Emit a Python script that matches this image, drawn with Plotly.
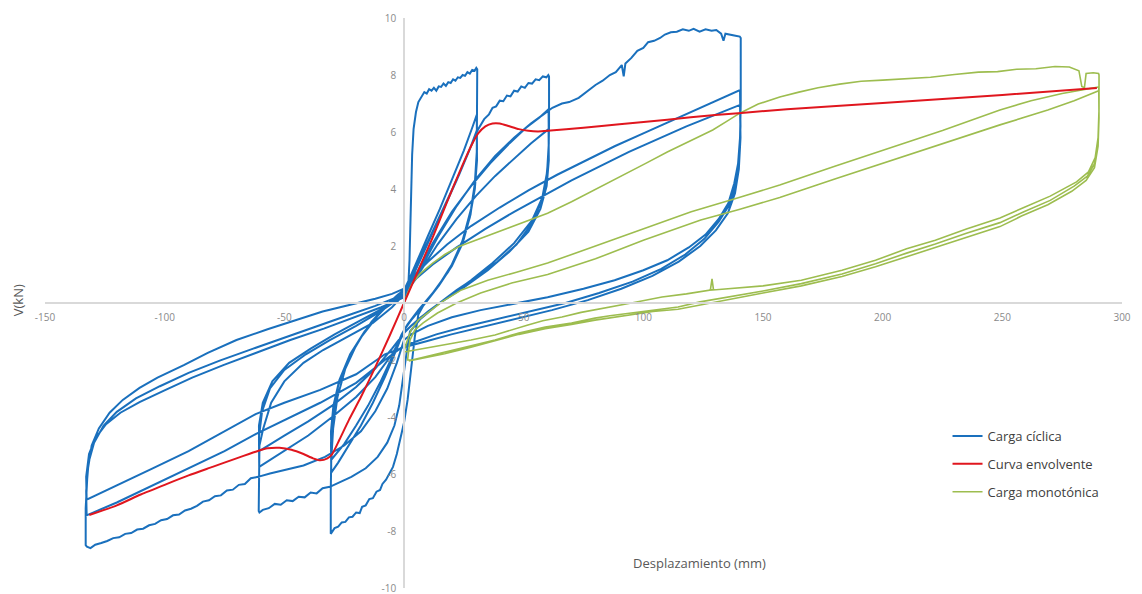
import plotly.graph_objects as go

# ---------------- axis ticks ----------------
x_ticks = [-150, -100, -50, 0, 50, 100, 150, 200, 250, 300]
x_tick_text = ["-150", "-100", "-50", "0", "50", "100", "150", "200", "250", "300"]
y_ticks = [-10, -8, -6, -4, -2, 0, 2, 4, 6, 8, 10]
y_tick_text = ["-10", "-8", "-6", "-4", "-2", "", "2", "4", "6", "8", "10"]

# ---------------- cyclic test: loops (displacement mm, shear kN) ----------------
lazo_30a = [
    (0.0, 0.0), (1.0, 0.3), (1.8, 0.6), (2.3, 1.5), (2.7, 2.8), (3.0, 4.0), (3.4, 5.2), (4.0, 6.1),
    (5.0, 6.7), (6.0, 7.05), (7.5, 7.25), (8.5, 7.4), (9.5, 7.35), (10.5, 7.5), (11.5, 7.45),
    (12.5, 7.55), (13.5, 7.45), (14.5, 7.6), (15.5, 7.58), (16.5, 7.7), (17.5, 7.62), (18.5, 7.75),
    (19.5, 7.72), (20.5, 7.85), (21.5, 7.8), (22.5, 7.92), (23.5, 7.9), (24.5, 8.0), (25.5, 7.97),
    (26.5, 8.1), (27.5, 8.05), (28.5, 8.18), (29.5, 8.15), (30.2, 8.25),
    (30.6, 8.2), (30.6, 6.5), (30.4, 5.3), (29.6, 4.2), (27.8, 3.1), (24.5, 2.1), (20.0, 1.3),
    (14.5, 0.6), (9.0, 0.05), (6.0, -0.4), (4.5, -1.2), (3.0, -2.3), (1.5, -3.4), (0.0, -4.2),
    (-1.5, -4.8), (-3.0, -5.3), (-4.6, -5.75), (-6.0, -5.95), (-7.5, -6.2), (-9.0, -6.35),
    (-10.0, -6.56), (-11.5, -6.62), (-13.0, -6.85), (-14.5, -6.88), (-16.0, -7.1), (-17.5, -7.15),
    (-18.5, -7.37), (-20.0, -7.35), (-21.5, -7.5), (-23.0, -7.52), (-24.5, -7.68), (-26.0, -7.7),
    (-27.5, -7.85), (-29.0, -7.9), (-30.0, -8.05),
    (-30.6, -8.1), (-30.6, -6.6), (-30.4, -5.5), (-29.6, -4.4), (-27.8, -3.3), (-24.5, -2.3),
    (-19.5, -1.4), (-13.5, -0.65), (-7.0, -0.05), (-2.5, 0.3), (0.0, 0.45),
]
lazo_30b = [
    (2.0, 0.8), (5.0, 1.4), (10.0, 2.35), (15.0, 3.3), (20.0, 4.3), (25.0, 5.35), (28.5, 6.15), (30.4, 6.6),
    (30.5, 5.4), (29.8, 4.3), (28.0, 3.3), (24.5, 2.2), (20.0, 1.35), (14.0, 0.55), (8.0, -0.1),
    (3.0, -0.6), (0.0, -0.95),
    (-3.0, -1.6), (-8.0, -2.6), (-13.0, -3.5), (-18.0, -4.3), (-23.0, -5.0), (-27.5, -5.6), (-30.4, -5.95),
    (-30.5, -4.9), (-29.6, -3.9), (-27.5, -2.9), (-23.5, -2.0), (-17.5, -1.15), (-11.0, -0.45),
    (-5.0, 0.1), (0.0, 0.45),
]
lazo_30c = [
    (3.0, 0.9), (8.0, 1.8), (13.0, 2.7), (18.0, 3.6), (23.0, 4.5), (27.5, 5.4), (30.4, 6.05),
    (30.5, 5.0), (29.6, 4.0), (27.5, 3.0), (23.5, 1.95), (18.5, 1.1), (12.0, 0.35), (6.0, -0.25),
    (1.5, -0.75), (-1.0, -1.1),
    (-5.0, -1.9), (-10.0, -2.8), (-15.0, -3.6), (-20.0, -4.3), (-25.0, -4.95), (-30.4, -5.5),
    (-30.5, -4.5), (-29.5, -3.6), (-27.0, -2.7), (-22.5, -1.8), (-16.5, -1.0), (-10.0, -0.35),
    (-4.0, 0.15), (0.0, 0.4),
]
lazo_60a = [
    (4.0, 1.0), (10.0, 2.1), (16.0, 3.2), (22.0, 4.3), (27.0, 5.3), (31.0, 6.1), (33.5, 6.45),
    (35.5, 6.62), (37.0, 6.85), (38.5, 6.9), (40.0, 7.1), (41.5, 7.08), (43.0, 7.28), (44.5, 7.25),
    (46.0, 7.45), (47.5, 7.42), (49.0, 7.6), (50.5, 7.55), (52.0, 7.72), (53.5, 7.7), (55.0, 7.85),
    (56.5, 7.82), (58.0, 7.95), (59.5, 7.92), (60.3, 8.0),
    (60.6, 7.95), (60.6, 6.2), (60.4, 5.2), (59.5, 4.4), (57.5, 3.6), (53.5, 2.8), (47.0, 2.05),
    (39.0, 1.45), (31.0, 0.95), (22.0, 0.45), (14.0, -0.05), (7.0, -0.55), (2.5, -1.0),
    (1.0, -1.8), (-0.5, -2.8), (-2.0, -3.6), (-4.0, -4.3), (-7.0, -4.9), (-11.0, -5.4), (-16.0, -5.8),
    (-22.0, -6.1), (-27.0, -6.3), (-31.0, -6.45), (-34.0, -6.5), (-36.5, -6.68), (-39.0, -6.65),
    (-41.5, -6.82), (-44.0, -6.8), (-46.5, -6.95), (-49.0, -6.92), (-51.5, -7.08), (-54.0, -7.05),
    (-56.5, -7.2), (-59.0, -7.26), (-60.4, -7.35),
    (-60.7, -7.3), (-60.7, -5.8), (-60.4, -5.0), (-58.8, -4.4), (-55.5, -3.5), (-50.0, -2.75),
    (-42.0, -2.1), (-33.8, -1.65), (-24.0, -1.2), (-13.0, -0.7), (-5.0, -0.15), (0.0, 0.3),
]
lazo_60b = [
    (5.0, 1.0), (12.0, 2.1), (20.0, 3.2), (28.0, 4.1), (36.0, 4.9), (44.0, 5.6), (51.0, 6.15),
    (56.5, 6.5), (60.4, 6.8),
    (60.5, 5.6), (59.8, 4.6), (57.8, 3.7), (53.5, 2.9), (46.0, 2.1), (37.0, 1.4), (28.0, 0.8),
    (19.0, 0.25), (10.0, -0.3), (3.0, -0.8), (0.0, -1.05),
    (-5.0, -1.8), (-12.0, -2.6), (-20.0, -3.3), (-30.0, -4.0), (-40.0, -4.65), (-50.0, -5.2),
    (-56.0, -5.5), (-60.5, -5.75),
    (-60.6, -4.7), (-59.3, -3.8), (-56.0, -3.0), (-50.0, -2.35), (-41.0, -1.8), (-31.0, -1.3),
    (-20.0, -0.8), (-10.0, -0.3), (-3.0, 0.1), (0.0, 0.3),
]
lazo_60c = [
    (6.0, 1.0), (14.0, 2.05), (22.0, 2.95), (30.0, 3.75), (38.0, 4.45), (46.0, 5.05), (53.0, 5.6),
    (60.4, 6.1),
    (60.5, 5.0), (59.6, 4.1), (57.0, 3.3), (52.0, 2.5), (44.0, 1.8), (35.0, 1.15), (25.0, 0.55),
    (15.0, 0.0), (7.0, -0.5), (1.0, -0.95),
    (-5.0, -1.6), (-12.0, -2.3), (-20.0, -2.95), (-30.0, -3.6), (-40.0, -4.15), (-50.0, -4.65),
    (-60.5, -5.2),
    (-60.6, -4.3), (-59.0, -3.5), (-55.0, -2.75), (-48.0, -2.1), (-39.0, -1.6), (-29.0, -1.1),
    (-18.0, -0.6), (-8.0, -0.15), (0.0, 0.3),
]
lazo_140a = [
    (6.0, 1.05), (14.0, 2.3), (22.0, 3.4), (30.0, 4.35), (38.0, 5.15), (46.0, 5.8), (53.0, 6.3),
    (58.0, 6.6), (62.0, 6.85), (66.0, 7.0), (69.0, 7.05), (73.0, 7.2), (76.0, 7.4), (80.0, 7.65),
    (83.0, 7.8), (86.0, 8.0), (88.5, 8.1), (91.0, 8.35), (91.8, 7.95), (92.5, 8.4), (95.0, 8.6),
    (97.5, 8.85), (100.0, 8.95), (102.0, 9.15), (104.5, 9.2), (107.0, 9.3), (109.0, 9.42),
    (111.5, 9.5), (114.0, 9.52), (116.5, 9.6), (119.0, 9.55), (121.0, 9.62), (123.5, 9.52),
    (126.0, 9.6), (128.5, 9.55), (130.5, 9.58), (132.5, 9.45), (133.5, 9.2), (134.3, 9.45),
    (136.5, 9.4), (138.5, 9.38), (140.3, 9.35),
    (140.7, 9.3), (140.7, 7.0), (140.4, 5.8), (139.6, 4.9), (138.0, 4.2), (135.5, 3.5), (131.5, 2.95),
    (126.0, 2.4), (119.0, 1.95), (110.0, 1.5), (100.0, 1.15), (88.0, 0.8), (75.0, 0.5), (60.0, 0.2),
    (45.0, -0.05), (32.0, -0.25), (20.0, -0.5), (10.0, -0.8), (3.0, -1.1), (0.0, -1.3),
    (-3.0, -2.1), (-7.0, -3.0), (-12.0, -3.8), (-18.0, -4.5), (-25.0, -5.0), (-33.0, -5.4),
    (-42.0, -5.7), (-50.0, -5.85), (-56.0, -5.98), (-61.0, -6.1), (-64.0, -6.15), (-66.5, -6.35),
    (-69.0, -6.38), (-71.5, -6.55), (-74.0, -6.58), (-76.5, -6.75), (-79.0, -6.78), (-81.5, -6.92),
    (-84.0, -6.97), (-86.5, -7.12), (-89.0, -7.22), (-91.5, -7.28), (-94.0, -7.42), (-96.5, -7.45),
    (-99.0, -7.58), (-101.5, -7.62), (-104.0, -7.75), (-106.5, -7.8), (-109.0, -7.92),
    (-111.5, -7.95), (-114.0, -8.07), (-116.5, -8.1), (-119.0, -8.22), (-121.5, -8.25),
    (-124.0, -8.35), (-126.5, -8.42), (-129.0, -8.48), (-131.0, -8.6), (-132.5, -8.55),
    (-133.0, -8.5), (-133.0, -7.2), (-132.2, -5.9), (-130.5, -5.0), (-127.5, -4.4), (-123.0, -3.85),
    (-117.5, -3.4), (-110.5, -2.98), (-103.0, -2.62), (-92.0, -2.18), (-82.0, -1.75), (-70.0, -1.3),
    (-57.0, -0.92), (-45.0, -0.6), (-34.0, -0.3), (-22.0, -0.05), (-12.0, 0.15), (-5.0, 0.32),
    (0.0, 0.5),
]
lazo_140b = [
    (4.0, 0.95), (10.0, 1.45), (18.0, 2.05), (28.0, 2.7), (40.0, 3.35), (52.0, 3.95), (64.0, 4.5),
    (76.0, 5.0), (88.0, 5.5), (100.0, 5.95), (112.0, 6.4), (124.0, 6.85), (133.0, 7.2), (140.4, 7.47),
    (140.6, 6.2), (140.1, 5.1), (138.8, 4.2), (136.0, 3.45), (131.5, 2.85), (125.5, 2.25),
    (117.5, 1.7), (107.5, 1.2), (95.5, 0.75), (81.5, 0.35), (67.5, 0.0), (52.5, -0.3), (37.5, -0.6),
    (24.5, -0.85), (13.5, -1.1), (5.0, -1.35), (0.0, -1.5),
    (-8.0, -2.0), (-20.0, -2.8), (-35.0, -3.5), (-50.0, -4.1), (-62.0, -4.6), (-75.0, -5.2),
    (-90.0, -5.8), (-105.0, -6.4), (-120.0, -7.0), (-132.6, -7.45),
    (-132.8, -6.6), (-131.8, -5.6), (-129.5, -4.9), (-125.5, -4.3), (-120.0, -3.82), (-112.0, -3.35),
    (-102.0, -2.92), (-90.0, -2.45), (-77.0, -2.02), (-63.0, -1.6), (-49.0, -1.18), (-36.0, -0.8),
    (-23.0, -0.42), (-12.0, -0.1), (-4.0, 0.15), (0.0, 0.3),
]
lazo_140c = [
    (5.0, 0.85), (12.0, 1.35), (22.0, 1.95), (34.0, 2.6), (46.0, 3.2), (58.0, 3.75), (70.0, 4.3),
    (82.0, 4.8), (94.0, 5.3), (106.0, 5.75), (118.0, 6.2), (130.0, 6.6), (140.4, 6.95),
    (140.6, 5.8), (139.9, 4.7), (138.3, 3.85), (135.3, 3.15), (130.3, 2.55), (123.8, 2.0),
    (114.8, 1.45), (103.8, 0.95), (90.8, 0.5), (76.8, 0.1), (61.8, -0.25), (46.8, -0.55),
    (32.8, -0.85), (19.8, -1.1), (9.0, -1.35), (0.0, -1.55),
    (-8.0, -1.8), (-20.0, -2.5), (-35.0, -3.05), (-50.0, -3.5), (-62.0, -3.9), (-75.0, -4.5),
    (-90.0, -5.2), (-105.0, -5.8), (-120.0, -6.4), (-132.6, -6.9),
    (-132.8, -6.1), (-131.6, -5.3), (-129.0, -4.75), (-124.5, -4.25), (-118.5, -3.85),
    (-110.5, -3.48), (-100.5, -3.08), (-88.5, -2.62), (-75.5, -2.18), (-61.5, -1.75), (-47.5, -1.3),
    (-33.5, -0.9), (-20.5, -0.5), (-9.5, -0.15), (0.0, 0.2),
]

# ---------------- monotonic test: first loading and reloads ----------------
mono_carga = [
    (0.0, 0.0), (1.5, 0.35), (3.5, 0.7), (7.0, 1.05), (12.0, 1.4), (17.0, 1.7), (23.0, 1.98),
    (30.0, 2.2), (38.0, 2.45), (46.0, 2.7), (53.0, 2.92), (60.0, 3.15), (70.0, 3.55), (80.0, 3.98),
    (90.0, 4.4), (101.0, 4.9), (110.0, 5.3), (120.0, 5.7), (129.0, 6.07), (135.0, 6.38),
    (140.5, 6.67), (148.0, 6.98), (157.0, 7.23), (165.0, 7.4), (173.0, 7.55), (182.0, 7.68),
    (191.0, 7.78), (200.0, 7.82), (210.0, 7.88), (220.0, 7.92), (230.0, 8.02), (240.0, 8.1),
    (248.0, 8.12), (256.0, 8.2), (264.0, 8.22), (272.0, 8.3), (278.0, 8.28), (282.0, 8.15),
    (283.2, 7.6), (284.3, 7.55), (285.0, 8.05), (288.0, 8.08), (290.2, 8.05),
]
mono_descarga_1 = [
    (290.4, 8.0), (290.4, 6.8), (290.0, 5.8), (288.8, 5.1), (286.0, 4.6), (281.0, 4.25),
    (270.0, 3.75), (259.0, 3.35), (249.0, 2.98), (235.0, 2.6), (222.0, 2.2), (210.0, 1.9),
    (197.0, 1.5), (183.0, 1.15), (166.0, 0.8), (150.0, 0.6), (136.0, 0.5), (128.0, 0.45),
    (128.7, 0.85), (129.3, 0.47), (118.0, 0.32), (107.8, 0.21), (95.0, 0.0), (82.7, -0.18),
    (74.0, -0.33), (66.0, -0.49), (58.0, -0.62), (51.8, -0.77), (45.0, -0.94), (38.0, -1.12),
    (28.0, -1.3), (17.0, -1.47), (10.0, -1.58), (5.9, -1.65), (2.0, -1.7), (0.0, -1.72),
]
mono_recarga_1 = [
    (0.0, -1.72), (1.0, -1.4), (3.0, -0.95), (6.0, -0.6), (10.0, -0.35), (16.0, 0.05), (24.0, 0.46),
    (35.0, 0.8), (47.0, 1.08), (60.0, 1.4), (80.0, 2.0), (100.0, 2.6), (120.0, 3.2), (140.0, 3.7),
    (157.0, 4.14), (180.0, 4.8), (200.0, 5.35), (225.0, 6.05), (249.0, 6.77), (262.0, 7.1),
    (275.0, 7.35), (285.0, 7.5), (290.3, 7.58),
]
mono_descarga_2 = [
    (290.4, 6.6), (290.0, 5.6), (288.6, 4.9), (285.5, 4.45), (280.0, 4.1), (270.0, 3.6),
    (259.0, 3.2), (249.0, 2.82), (235.0, 2.45), (222.0, 2.07), (210.0, 1.75), (197.0, 1.38),
    (183.0, 1.02), (166.0, 0.68), (150.0, 0.42), (136.0, 0.22), (123.7, 0.04), (114.5, -0.14),
    (104.0, -0.25), (93.6, -0.35), (86.0, -0.45), (79.8, -0.53), (70.0, -0.7), (59.0, -0.84),
    (48.0, -1.05), (38.0, -1.3), (28.0, -1.5), (17.1, -1.72), (10.0, -1.85), (3.3, -2.0), (1.5, -2.0),
]
mono_recarga_2 = [
    (1.8, -1.7), (2.5, -1.3), (4.5, -0.95), (8.0, -0.7), (14.0, -0.35), (22.0, 0.0), (32.0, 0.35),
    (45.0, 0.7), (60.0, 1.0), (80.0, 1.55), (100.0, 2.2), (124.0, 2.91), (140.0, 3.28),
    (157.0, 3.7), (180.0, 4.35), (200.0, 4.9), (225.0, 5.6), (249.0, 6.25), (269.0, 6.77),
    (280.0, 7.1), (290.3, 7.45),
]
mono_descarga_3 = [
    (290.4, 6.5), (290.0, 5.5), (288.5, 4.75), (285.0, 4.3), (279.0, 3.92), (269.0, 3.45),
    (258.0, 3.05), (249.0, 2.68), (235.0, 2.3), (222.0, 1.95), (210.0, 1.62), (197.0, 1.27),
    (183.0, 0.93), (166.0, 0.6), (150.0, 0.35), (136.0, 0.12), (123.7, -0.06), (114.5, -0.22),
    (104.0, -0.3), (93.6, -0.42), (79.8, -0.6), (70.0, -0.75), (59.0, -0.9), (48.0, -1.1),
    (38.0, -1.33), (28.0, -1.55), (17.0, -1.78), (10.0, -1.9), (4.0, -2.02), (2.0, -2.03),
]

# ---------------- envelope of the cyclic test ----------------
envolvente = [
    (-131.5, -7.44), (-120.0, -7.1), (-110.0, -6.72), (-100.0, -6.38), (-90.0, -6.05),
    (-80.0, -5.75), (-70.0, -5.45), (-62.0, -5.22), (-57.0, -5.1), (-52.0, -5.08), (-47.0, -5.15),
    (-42.0, -5.3), (-38.0, -5.45), (-35.0, -5.52), (-32.0, -5.45), (-30.0, -5.3), (-27.0, -4.8),
    (-23.0, -4.1), (-18.0, -3.3), (-12.0, -2.25), (-6.0, -1.15), (0.0, 0.0), (6.0, 1.15),
    (12.0, 2.3), (18.0, 3.55), (24.0, 4.75), (28.0, 5.5), (31.0, 5.95), (34.0, 6.2), (37.0, 6.3),
    (40.0, 6.3), (44.0, 6.2), (48.0, 6.1), (52.0, 6.04), (56.0, 6.02), (60.0, 6.04), (75.0, 6.15),
    (90.0, 6.27), (110.0, 6.43), (130.0, 6.6), (141.0, 6.67), (160.0, 6.8), (200.0, 7.02),
    (250.0, 7.3), (289.5, 7.54),
]


def joined(*branches):
    xs, ys = [], []
    for branch in branches:
        for x, y in branch:
            xs.append(x)
            ys.append(y)
    return xs, ys


cic_x, cic_y = joined(lazo_30a, lazo_30b, lazo_30c, lazo_60a, lazo_60b, lazo_60c,
                      lazo_140a, lazo_140b, lazo_140c)
mono_x, mono_y = joined(mono_carga, mono_descarga_1, mono_recarga_1, mono_descarga_2,
                        mono_recarga_2, mono_descarga_3)
env_x, env_y = joined(envolvente)

AZUL = "#1a70bd"
ROJO = "#e0161e"
VERDE = "#9dbd4f"

fig = go.Figure()
fig.add_trace(go.Scatter(x=cic_x, y=cic_y, mode="lines", name="Carga cíclica",
                         line=dict(color=AZUL, width=2), legendgroup="a", legendrank=1))
fig.add_trace(go.Scatter(x=mono_x, y=mono_y, mode="lines", name="Carga monotónica",
                         line=dict(color=VERDE, width=1.6), legendgroup="c", legendrank=3))
fig.add_trace(go.Scatter(x=env_x, y=env_y, mode="lines", name="Curva envolvente",
                         line=dict(color=ROJO, width=2, shape="spline", smoothing=0.6),
                         legendgroup="b", legendrank=2))

tick_font = dict(family="Open Sans", size=10, color="#8a8a8a")

fig.update_layout(
    width=1142, height=594,
    margin=dict(l=45, r=20, t=18, b=6, autoexpand=False),
    paper_bgcolor="white", plot_bgcolor="white",
    font=dict(family="Open Sans", color="#404040"),
    xaxis=dict(range=[-150, 300], domain=[0, 1], anchor="free", position=0.5,
               showline=True, linecolor="#d9d9d9", linewidth=1.5, showgrid=False,
               zeroline=False, tickmode="array", tickvals=x_ticks, ticktext=x_tick_text,
               ticks="", tickfont=tick_font, ticklabelstandoff=5,
               ticklabeloverflow="allow", automargin=False),
    yaxis=dict(range=[-10, 10], domain=[0, 1], anchor="free", position=150 / 450,
               showline=True, linecolor="#d9d9d9", linewidth=1.5, showgrid=False,
               zeroline=False, tickmode="array", tickvals=y_ticks, ticktext=y_tick_text,
               ticks="", tickfont=tick_font, ticklabelstandoff=5,
               ticklabeloverflow="allow", automargin=False),
    legend=dict(x=0.838, y=0.293, xanchor="left", yanchor="top",
                font=dict(family="Open Sans", size=13, color="#404040"),
                bgcolor="rgba(255,255,255,0)", tracegroupgap=8),
    showlegend=True,
    annotations=[
        dict(text="V(kN)", x=-0.025, y=0.505, xref="paper", yref="paper", showarrow=False,
             xanchor="center", yanchor="middle", textangle=-90,
             font=dict(family="Open Sans", size=13, color="#595959")),
        dict(text="Desplazamiento (mm)", x=0.608, y=0.044, xref="paper", yref="paper",
             xanchor="center", yanchor="middle", showarrow=False,
             font=dict(family="Open Sans", size=13, color="#595959")),
    ],
)

fig.write_html("out.html")
